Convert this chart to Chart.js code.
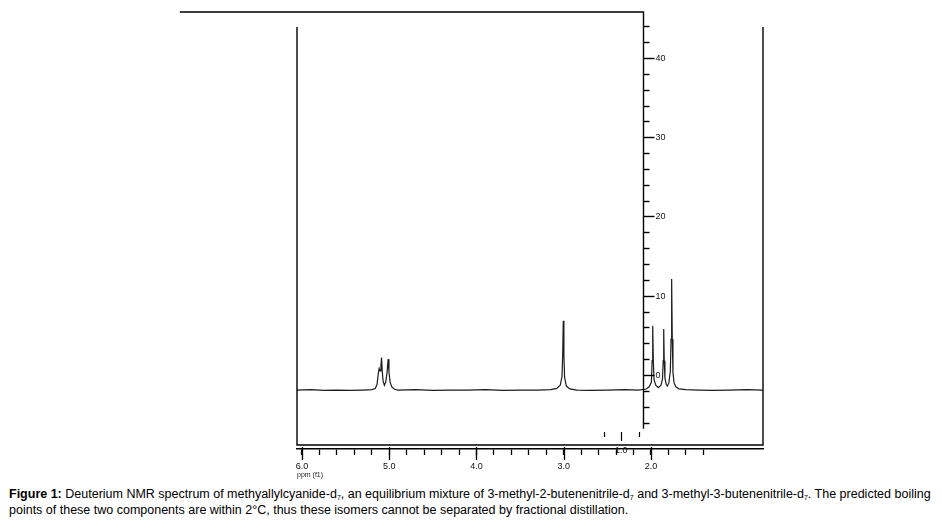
<!DOCTYPE html>
<html>
<head>
<meta charset="utf-8">
<script src="https://cdn.jsdelivr.net/npm/chart.js@4/dist/chart.umd.min.js"></script>
<style>
body { margin: 0; background: #fff; width: 942px; height: 522px; overflow: hidden; }
#wrap { position: relative; width: 942px; height: 482px; }
#caption { position: absolute; left: 9px; top: 486px; font: 12.5px "Liberation Sans", Arial, sans-serif; line-height: 16px; color: #000; white-space: nowrap; }
#caption sub { font-size: 7px; vertical-align: -2px; line-height: 0; }
</style>
</head>
<body>
<div id="wrap"><canvas id="nmr" width="942" height="482"></canvas></div>
<div id="caption"><b>Figure 1:</b> Deuterium NMR spectrum of methyallylcyanide-d<sub>7</sub>, an equilibrium mixture of 3-methyl-2-butenenitrile-d<sub>7</sub> and 3-methyl-3-butenenitrile-d<sub>7</sub>. The predicted boiling<br>points of these two components are within 2°C, thus these isomers cannot be separated by fractional distillation.</div>
<script>
// spectrum, ppm going down
let ppm = [6.06, 5.90, 5.75, 5.60, 5.45, 5.30, 5.20, 5.16, 5.14, 5.125, 5.115, 5.105, 5.095, 5.088, 5.080, 5.070, 5.055, 5.040, 5.025, 5.012, 5.003, 4.99, 4.97, 4.94, 4.90,
    4.70, 4.50, 4.30, 4.10, 3.90, 3.70, 3.50, 3.30, 3.15, 3.08, 3.04, 3.02, 3.012, 3.005, 2.998, 2.99, 2.97, 2.93, 2.85,
    2.70, 2.50, 2.30, 2.15, 2.06, 2.02, 1.995, 1.987, 1.980, 1.973, 1.965, 1.945, 1.917, 1.885, 1.868, 1.860, 1.854, 1.848, 1.840,
    1.825, 1.812, 1.795, 1.778, 1.770, 1.763, 1.756, 1.748, 1.735, 1.715, 1.68, 1.60, 1.45, 1.30, 1.10, 0.90, 0.72]
let intensity = [-1.9, -1.85, -1.95, -1.9, -1.95, -1.9, -1.85, -1.7, -1.2, 0.2, 0.8, 0.5, 1.2, 2.2, 0.5, -0.8, -1.3, -0.9, 0.3, 2.0, 0.4, -0.9, -1.5, -1.8, -1.9,
    -1.85, -1.95, -1.9, -1.9, -1.85, -1.95, -1.9, -1.9, -1.85, -1.7, -1.3, -0.2, 2.5, 6.85, 2.5, -0.3, -1.4, -1.75, -1.9,
    -1.95, -1.9, -1.85, -1.9, -1.8, -1.5, -0.9, 1.8, 6.2, 1.8, -0.6, -1.3, -1.6, -1.3, -0.5, 1.8, 5.8, 1.8, -0.4,
    -1.2, -1.4, -1.0, 0.5, 4.5, 12.1, 4.5, 0.3, -1.0, -1.5, -1.75, -1.85, -1.9, -1.95, -1.9, -1.85, -1.9]

let y_ticks = [-6, -4, -2, 0, 2, 4, 6, 8, 10, 12, 14, 16, 18, 20, 22, 24, 26, 28, 30, 32, 34, 36, 38, 40, 42, 44]
let y_labels = [0, 10, 20, 30, 40]
let y_axis_at = 2.092

let integral_marks = [2.54, 2.34, 2.14]
let integral_label = "1.0"

let font_name = "'Liberation Sans', Arial, sans-serif"

let nmr_frame = {
    id: "nmr_frame",
    afterDraw(chart) {
        let ctx = chart.ctx
        let x = chart.scales.x
        let y = chart.scales.y
        let area = chart.chartArea
        let axis_x = Math.round(x.getPixelForValue(y_axis_at)) + 0.5

        ctx.save()
        ctx.strokeStyle = "#000"
        ctx.lineWidth = 1.4

        // open box round the spectrum
        ctx.beginPath()
        ctx.moveTo(area.left, area.top + 15)
        ctx.lineTo(area.left, area.bottom - 4)
        ctx.lineTo(area.right, area.bottom - 4)
        ctx.lineTo(area.right, area.top + 15)
        ctx.stroke()

        // top rule and the intensity axis
        ctx.beginPath()
        ctx.moveTo(x.getPixelForValue(7.4), area.top)
        ctx.lineTo(axis_x, area.top)
        ctx.lineTo(axis_x, y.getPixelForValue(-6.8))
        ctx.stroke()

        ctx.font = "9px " + font_name
        ctx.fillStyle = "#111"
        ctx.textBaseline = "middle"
        ctx.textAlign = "left"
        for (let i = 0; i < y_ticks.length; i++) {
            let py = Math.round(y.getPixelForValue(y_ticks[i])) + 0.5
            let major = y_labels.includes(y_ticks[i])
            ctx.beginPath()
            ctx.moveTo(axis_x, py)
            ctx.lineTo(axis_x + (major ? 11 : 6), py)
            ctx.stroke()
            if (major) {
                ctx.fillText(String(y_ticks[i]), axis_x + 12, py)
            }
        }

        // longer marks at the whole ppm values
        ctx.lineWidth = 1.3
        for (let i = 0; i < x.ticks.length; i++) {
            let v = x.ticks[i].value
            if (Math.abs(v - Math.round(v)) > 0.01 || v < 1.39) continue
            let px = Math.round(x.getPixelForValue(v)) + 0.5
            ctx.beginPath()
            ctx.moveTo(px, area.bottom - 2)
            ctx.lineTo(px, area.bottom + 11)
            ctx.stroke()
        }

        // integral marks under the 2-3 ppm region
        ctx.lineWidth = 1.2
        for (let i = 0; i < integral_marks.length; i++) {
            let px = Math.round(x.getPixelForValue(integral_marks[i])) + 0.5
            ctx.beginPath()
            ctx.moveTo(px, area.bottom - 17)
            ctx.lineTo(px, area.bottom - (i == 1 ? 8 : 12))
            ctx.stroke()
        }
        ctx.textAlign = "center"
        ctx.fillText(integral_label, x.getPixelForValue(integral_marks[1]), area.bottom + 2)

        // axis title
        ctx.textAlign = "left"
        ctx.fillStyle = "#222"
        ctx.font = "7px " + font_name
        ctx.fillText("ppm (f1)", area.left, area.bottom + 26)
        ctx.restore()
    }
}

let points = []
for (let i = 0; i < ppm.length; i++) {
    points.push({x: ppm[i], y: intensity[i]})
}

let chart = new Chart(document.getElementById("nmr").getContext("2d"), {
    type: "line",
    data: {
        datasets: [{
            data: points,
            borderColor: "#1c1c1c",
            borderWidth: 1.2,
            pointRadius: 0,
            tension: 0,
            fill: false
        }]
    },
    options: {
        responsive: false,
        animation: false,
        devicePixelRatio: 1,
        layout: {
            padding: {left: 297, right: 179, top: 12, bottom: 2}
        },
        plugins: {
            legend: {display: false},
            tooltip: {enabled: false}
        },
        scales: {
            x: {
                type: "linear",
                reverse: true,
                min: 0.716,
                max: 6.057,
                afterFit: function(scale) { scale.height = 31 },
                border: {display: true, color: "#000", width: 1.4},
                grid: {drawOnChartArea: false, drawTicks: true, tickLength: 6, tickColor: "#000", tickWidth: 1.3},
                ticks: {
                    stepSize: 0.2,
                    maxTicksLimit: 100,
                    includeBounds: false,
                    autoSkip: false,
                    maxRotation: 0,
                    padding: 6,
                    color: "#111",
                    font: {family: font_name, size: 9},
                    callback: function(value) {
                        if (value < 1.39) return null
                        if (Math.abs(value - Math.round(value)) < 0.01) return value.toFixed(1)
                        return ""
                    }
                }
            },
            y: {
                type: "linear",
                display: false,
                min: -9.34,
                max: 45.8
            }
        }
    },
    plugins: [nmr_frame]
})
</script>
</body>
</html>
